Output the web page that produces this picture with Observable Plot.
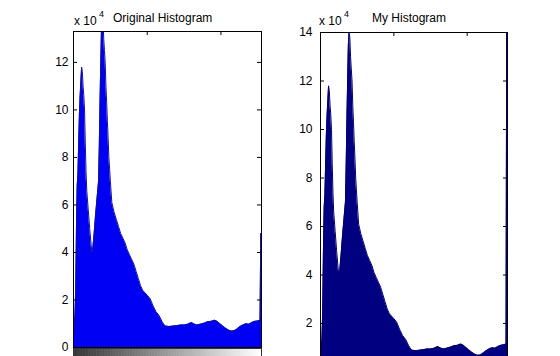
<!DOCTYPE html>
<html>
<head>
<meta charset="utf-8">
<script src="https://cdn.jsdelivr.net/npm/d3@7"></script>
<script src="https://cdn.jsdelivr.net/npm/@observablehq/plot@0.6"></script>
<style>
  html, body { margin: 0; padding: 0; background: #fff; }
  #wrap { position: relative; width: 560px; height: 356px; overflow: hidden; background: #fff;
          font-family: "Liberation Sans", Arial, sans-serif; color: #000; }
  .abs { position: absolute; }
  .lbl { font-size: 12px; line-height: 14px; white-space: nowrap; }
  .sup { font-size: 9px; line-height: 10px; }
</style>
</head>
<body>
<div id="wrap">
  <div class="abs lbl" style="left:74px; top:14px;">x 10</div>
  <div class="abs sup" style="left:99px; top:9px;">4</div>
  <div class="abs lbl" style="left:113px; top:11px;">Original Histogram</div>
  <div class="abs lbl" style="left:319px; top:14px;">x 10</div>
  <div class="abs sup" style="left:344px; top:9px;">4</div>
  <div class="abs lbl" style="left:372px; top:11px;">My Histogram</div>
  <div id="left" class="abs" style="left:0; top:0;"></div>
  <div id="right" class="abs" style="left:280px; top:0;"></div>
  <div id="cbar" class="abs" style="left:0; top:348px;"></div>
</div>
<script>
// Histogram counts (units of 10^4) at gray-level bins
const bins = [0,1,2,3,4,5,6,7,8,9,10,11,12,13,14,15,16,17,18,20,22,24,25,26,28,30,32,34,35,36,37,38,39,40,41,42,43,44,45,46,47,48,49,50,52,55,58,61,64,67,70,73,76,79,82,85,88,91,94,97,100,104,108,112,116,120,123,125,130,135,140,145,150,155,160,163,167,172,177,182,187,191,194,198,202,206,210,214,218,222,226,230,234,238,242,246,250,253,254,255];
const originalCounts = [0.6,0.9,1.4,2.5,5.0,6.8,7.3,8.6,9.8,10.6,11.2,11.8,11.6,11.0,10.6,10.0,8.6,7.4,6.6,5.8,5.0,4.3,4.0,4.1,4.8,5.6,6.3,7.0,8.5,10.4,12.0,13.5,14.0,13.8,13.0,12.5,12.0,11.0,10.3,9.5,8.8,8.0,7.5,7.0,6.1,5.7,5.4,5.1,4.8,4.6,4.4,4.1,3.9,3.7,3.5,3.2,2.9,2.6,2.4,2.3,2.2,2.05,1.75,1.5,1.35,1.1,0.95,0.9,0.88,0.9,0.92,0.95,0.95,0.98,1.05,1.0,0.95,0.98,1.02,1.08,1.1,1.15,1.12,1.02,0.92,0.82,0.74,0.69,0.7,0.78,0.88,0.95,1.0,0.98,1.05,1.1,1.12,1.15,4.8,4.8];
const myCounts = [0.6,0.9,1.4,2.5,5.0,6.8,7.3,8.6,9.8,10.6,11.2,11.8,11.6,11.0,10.6,10.0,8.6,7.4,6.6,5.8,5.0,4.3,4.0,4.1,4.8,5.6,6.3,7.0,8.5,10.4,12.0,13.5,14.0,13.8,13.0,12.5,12.0,11.0,10.3,9.5,8.8,8.0,7.5,7.0,6.1,5.7,5.4,5.1,4.8,4.6,4.4,4.1,3.9,3.7,3.5,3.2,2.9,2.6,2.4,2.3,2.2,2.05,1.75,1.5,1.35,1.1,0.95,0.9,0.88,0.9,0.92,0.95,0.95,0.98,1.05,1.0,0.95,0.98,1.02,1.08,1.1,1.15,1.12,1.02,0.92,0.82,0.74,0.69,0.7,0.78,0.88,0.95,1.0,0.98,1.05,1.1,1.12,1.15,16,16];

const leftYTicks = [0,2,4,6,8,10,12];
const rightYTicks = [2,4,6,8,10,12,14];
const xTicks = [0,100,200];
const grayLevels = d3.range(256);

const origData = bins.map((b, i) => ({bin: b, count: originalCounts[i]}));
const myData = bins.map((b, i) => ({bin: b, count: myCounts[i]}));

function panel({data, yMax, yTicks, width, height, mL, mR, mT, mB, fill, edge, pad}) {
  const innerW = width - mL - mR;
  const innerH = height - mT - mB;
  return Plot.plot({
    width, height,
    marginLeft: mL, marginRight: mR, marginTop: mT, marginBottom: mB,
    style: {fontFamily: "'Liberation Sans', Arial, sans-serif", fontSize: "12px", color: "#000", background: "transparent", overflow: "visible"},
    x: {domain: [0, 255], axis: null},
    y: {domain: [0, yMax], label: null},
    marks: [
      Plot.areaY(data, {x: "bin", y: "count", fill, clip: true}),
      Plot.lineY(data, {x: "bin", y: "count", stroke: edge, strokeWidth: 1, clip: true}),
      Plot.axisY(yTicks, {anchor: "left", label: null, tickSize: 0, tickPadding: pad, fontSize: 12, fill: "#000"}),
      Plot.tickY(yTicks, {y: d => d, stroke: "#000", insetRight: innerW - 4}),
      Plot.tickY(yTicks, {y: d => d, stroke: "#000", insetLeft: innerW - 4}),
      Plot.tickX(xTicks, {x: d => d, stroke: "#000", insetBottom: innerH - 4}),
      Plot.frame({stroke: "#000", strokeWidth: 1})
    ]
  });
}

document.getElementById("left").appendChild(panel({
  data: origData, yMax: 13.3, yTicks: leftYTicks,
  width: 275, height: 356, mL: 73, mR: 14, mT: 31, mB: 9,
  fill: "#0000f2", edge: "#10109a", pad: 5
}));

document.getElementById("cbar").appendChild(Plot.plot({
  width: 275, height: 10,
  marginLeft: 73, marginRight: 14, marginTop: 0, marginBottom: 0,
  x: {domain: [0, 256], axis: null},
  y: {domain: [0, 1], axis: null},
  color: {type: "identity"},
  marks: [
    Plot.rect(grayLevels, {x1: d => d, x2: d => d + 1, y1: 0, y2: 1, fill: d => `rgb(${d},${d},${d})`}),
    Plot.frame({stroke: "#333"})
  ]
}));

document.getElementById("right").appendChild(panel({
  data: myData, yMax: 14, yTicks: rightYTicks,
  width: 280, height: 373, mL: 40, mR: 53, mT: 32, mB: 1.5,
  fill: "#000080", edge: "#000070", pad: 8
}));
</script>
</body>
</html>
